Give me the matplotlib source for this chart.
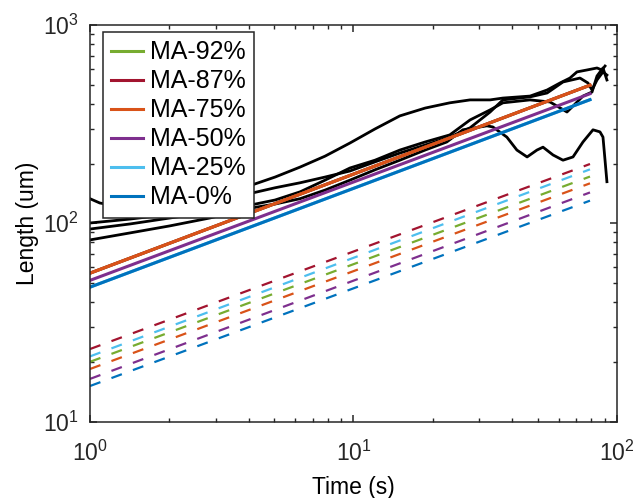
import numpy as np
import matplotlib
matplotlib.use('Agg')
from matplotlib import pyplot as plt

plt.rcParams.update({
    'font.family': ['Liberation Sans', 'DejaVu Sans'],
    'mathtext.fontset': 'custom',
    'mathtext.rm': 'Liberation Sans',
    'mathtext.it': 'Liberation Sans:italic',
    'font.size': 16,
    'axes.linewidth': 1.1,
    'axes.edgecolor': '#262626',
    'xtick.color': '#262626',
    'ytick.color': '#262626',
})

# measured growth curves (time s, length um)
t_a = [1.00, 1.09, 1.19, 2.62, 4.12, 5.04, 6.27, 7.80, 9.70, 12.07, 15.0, 18.7, 23.2,
       27.7, 33.0, 36.9, 46.8, 54.3, 60.8, 66.3, 70.5, 76.9, 84.0, 87.7, 90.1]
L_a = [133, 126.5, 124, 142, 156, 171, 192, 218, 254, 299, 348, 381, 405,
       419, 419, 428, 438, 470, 510, 540, 580, 593, 607, 593, 621]

t_b = [1.00, 1.42, 2.01, 2.85, 4.12, 5.04, 6.27, 7.80, 9.70, 12.07, 15.0, 18.7, 23.2,
       27.7, 33.0, 36.9, 46.8, 54.3, 62.4, 72.4, 77.6, 80.4, 84.0, 88.5, 91.6]
L_b = [100.3, 105, 111, 119.5, 142, 151, 160, 171, 183.5, 204, 226, 248, 272,
       303, 364, 419, 434, 454, 516, 540, 510, 470, 528, 580, 559]

t_c = [1.00, 1.42, 2.01, 2.85, 4.12, 5.04, 6.27, 7.80, 9.70, 12.07, 15.0, 18.7, 23.2,
       27.7, 33.0, 36.9, 46.8, 55.7, 59.2, 64.6, 68.1, 74.3, 80.4, 84.0, 88.5, 91.6]
L_c = [93.5, 99.2, 106.3, 114, 124, 131, 144, 165, 190, 208, 234, 257, 279,
       332, 373, 405, 419, 409, 390, 364, 390, 438, 459, 553, 607, 528]

t_d = [1.00, 1.42, 2.01, 2.85, 4.12, 5.04, 6.27, 7.80, 9.70, 12.07, 15.0, 18.7, 22.6,
       26.0, 32.1, 33.8, 38.2, 41.7, 45.6, 49.7, 52.4, 57.2, 62.4, 68.1, 74.3, 81.1,
       86.2, 88.5, 90.1, 91.6]
L_d = [82.4, 89.4, 97, 106.3, 119.5, 125, 133, 147, 165, 186, 208, 234, 257,
       296, 310, 306, 272, 234, 216, 234, 242, 221, 208, 216, 257, 296,
       289, 272, 208, 162]

# model lines, start/end points
t_fit = [1, 79]
labels = ['MA-92%', 'MA-87%', 'MA-75%', 'MA-50%', 'MA-25%', 'MA-0%']
colors = ['#77AC30', '#A2142F', '#D95319', '#7E2F8E', '#4DBEEE', '#0072BD']
L_solid = [[56, 497], [56, 497], [56, 497], [51.5, 450], [47.6, 420], [47.6, 420]]
L_dash = [[20.0, 172], [23.2, 199], [18.4, 159], [16.4, 143], [21.3, 187], [15.1, 130]]

fig = plt.figure(figsize=(6.4, 4.98), dpi=100)
ax = fig.add_axes([0.1406, 0.1536, 0.8234, 0.7962])

for t, L in [(t_a, L_a), (t_b, L_b), (t_c, L_c), (t_d, L_d)]:
    ax.plot(t, L, color='k', lw=2.0)

handles = []
for lab, c, ls in zip(labels, colors, L_solid):
    h, = ax.plot(t_fit, ls, color=c, lw=2.2, label=lab)
    handles.append(h)
for c, ld in zip(colors, L_dash):
    ax.plot(t_fit, ld, color=c, lw=1.6, linestyle=(0, (5.0, 5.3)))

ax.set_xscale('log')
ax.set_yscale('log')
ax.set_xlim(1, 100)
ax.set_ylim(10, 1000)
ax.set_xlabel('Time (s)', fontsize=16.5, labelpad=7)
ax.set_ylabel('Length (um)', fontsize=16.5, labelpad=3)
ax.tick_params(which='both', direction='in', top=True, right=True, labelsize=16.5)
ax.tick_params(axis='x', which='both', pad=14)
ax.tick_params(axis='y', which='both', pad=8)
ax.tick_params(which='major', length=5, width=1.1)
ax.tick_params(which='minor', length=3, width=1.0)

leg = ax.legend(handles=handles, loc='upper left', bbox_to_anchor=(0.024, 0.982),
                fontsize=18, handlelength=1.3, handletextpad=0.25,
                labelspacing=0.2, borderpad=0.33, borderaxespad=0,
                fancybox=False, framealpha=1)
leg.get_frame().set_edgecolor('#262626')
leg.get_frame().set_linewidth(1.1)

fig.savefig('out.png', dpi=100)
